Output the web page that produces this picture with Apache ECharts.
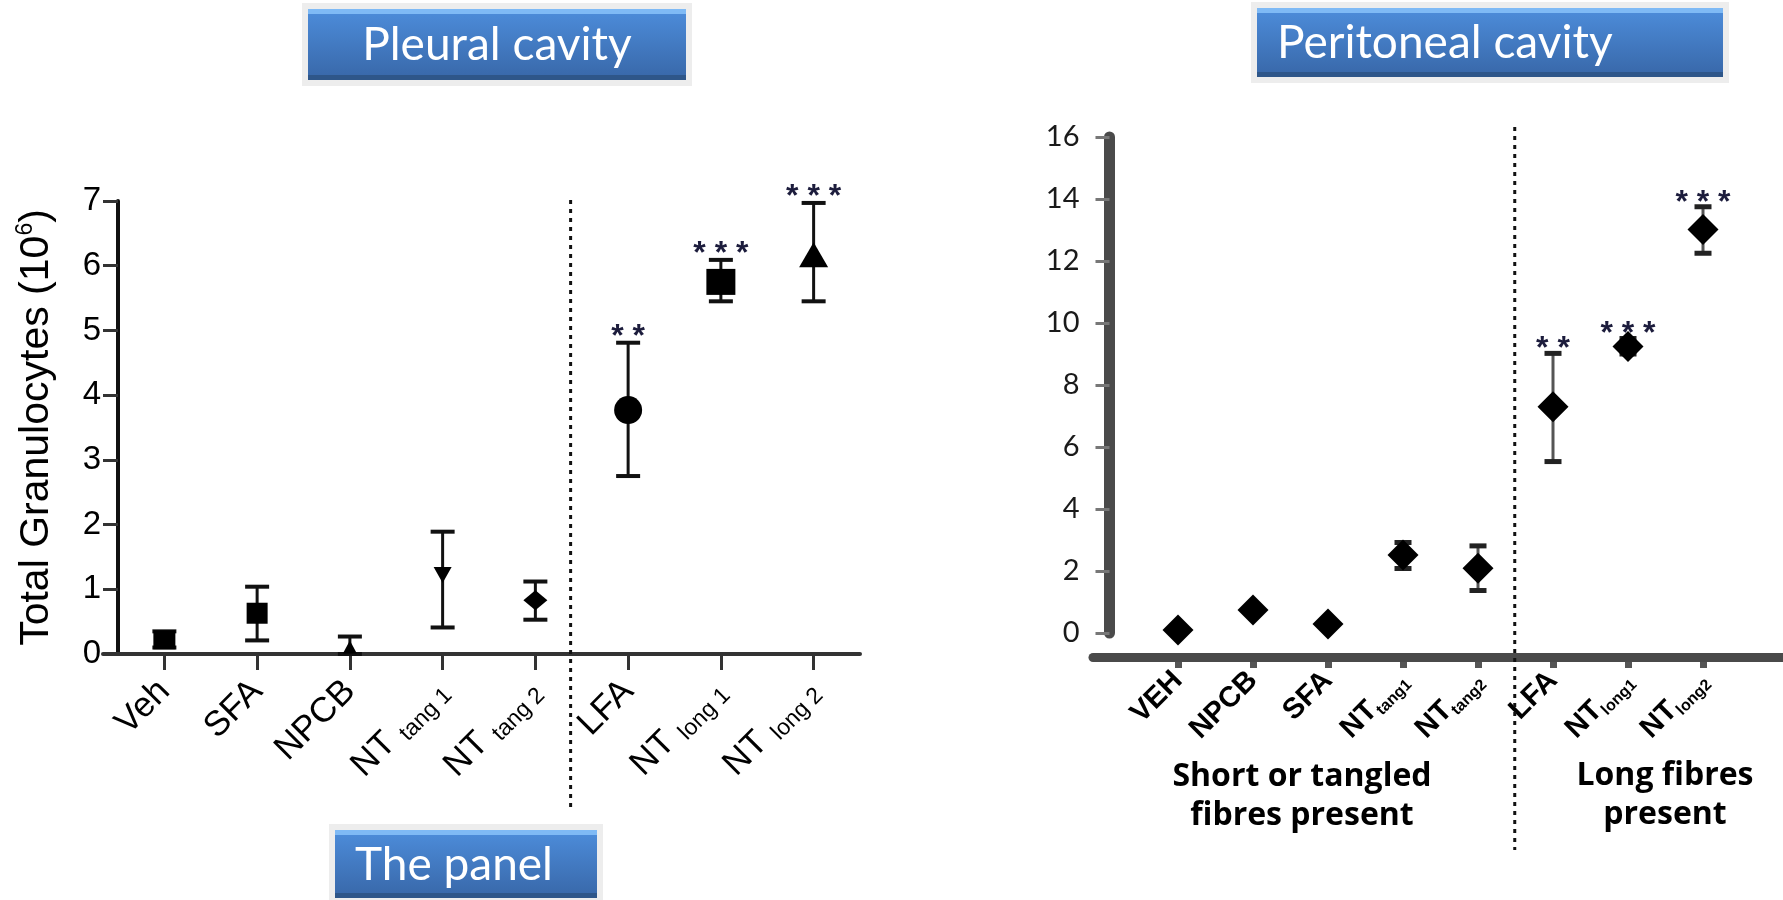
<!DOCTYPE html>
<html><head><meta charset="utf-8">
<script src="https://cdn.jsdelivr.net/npm/echarts@6/dist/echarts.min.js"></script>
<style>html,body{margin:0;padding:0;background:#fff}#c{width:1783px;height:900px}</style>
</head><body><div id="c"></div>
<script>
// ---- Pleural cavity (left panel) ----
const leftCategories = ['Veh','SFA','NPCB','NT tang 1','NT tang 2','LFA','NT long 1','NT long 2'];
const leftMean  = [0.22, 0.63, 0.11, 1.22, 0.83, 3.77, 5.75, 6.17];
const leftUpper = [0.35, 1.04, 0.27, 1.89, 1.12, 4.81, 6.09, 6.97];
const leftLower = [0.10, 0.21, 0.00, 0.41, 0.53, 2.75, 5.45, 5.45];
const leftStars = ['', '', '', '', '', '**', '***', '***'];
const leftYTicks = [0,1,2,3,4,5,6,7];

// ---- Peritoneal cavity (right panel) ----
const rightCategories = ['VEH','NPCB','SFA','NT tang1','NT tang2','LFA','NT long1','NT long2'];
const rightMean  = [0.10, 0.74, 0.29, 2.52, 2.09, 7.30, 9.24, 13.02];
const rightUpper = [0.20, 0.84, 0.39, 2.92, 2.81, 9.02, 9.50, 13.75];
const rightLower = [0.00, 0.64, 0.19, 2.08, 1.37, 5.53, 9.00, 12.25];
const rightStars = ['', '', '', '', '', '**', '***', '***'];
const rightYTicks = [0,2,4,6,8,10,12,14,16];

// ---- styles (not data) ----
const leftSymbols = ['rect','rect','triangle','path://M0,0 L10,0 L5,9 Z','diamond','circle','rect','triangle'];
const leftSizes = [[22,19],[21,21],[14,13],[18,16],[24,20],[28,28],[29,26],[29,25]];

function splitLabel(v){
  if (v.indexOf('NT ') === 0) return {main: 'NT', sub: v.slice(3)};
  return {main: v, sub: ''};
}

function errorBars(xi, yi, lower, upper, stars, o){
  return {
    type: 'custom', xAxisIndex: xi, yAxisIndex: yi, z: 3, clip: false,
    data: lower.map((l, i) => [i, l, upper[i]]),
    renderItem: function(params, api){
      const i = api.value(0);
      const lo = api.coord([i, api.value(1)]);
      const hi = api.coord([i, api.value(2)]);
      const x = lo[0], w = o.cap / 2;
      const ch = [
        {type:'line', shape:{x1:x, y1:lo[1], x2:x, y2:hi[1]}, style:{stroke:o.color, lineWidth:o.lw}},
        {type:'line', shape:{x1:x-w, y1:hi[1], x2:x+w, y2:hi[1]}, style:{stroke:o.capColor, lineWidth:o.capW}},
        {type:'line', shape:{x1:x-w, y1:lo[1], x2:x+w, y2:lo[1]}, style:{stroke:o.capColor, lineWidth:o.capW}}
      ];
      if (stars[i]) {
        ch.push({type:'text', style:{text: stars[i].split('').join(' '), x: x, y: hi[1] - o.starGap,
          align:'center', verticalAlign:'middle', font: o.starFont, fill: o.starColor}});
      }
      return {type:'group', children: ch};
    }
  };
}

const chart = echarts.init(document.getElementById('c'));

const hiddenValueAxis = (g) => ({type: 'value', gridIndex: g, min: 0, max: 1, show: false});

const option = {
  animation: false,
  backgroundColor: '#fff',
  grid: [
    {left: 118, top: 201, width: 742, height: 453},      // 0 left data
    {left: 1140.5, top: 137, width: 600, height: 496},   // 1 right data
    {left: 1093, top: 137, right: 0, height: 496},       // 2 right long axis line
    {left: 1140.5, top: 137, width: 600, height: 525},   // 3 right category ticks/labels
    {left: 103, top: 201, width: 757, height: 453}       // 4 left long axis line
  ],
  xAxis: [
    {
      type: 'category', gridIndex: 0, data: leftCategories, boundaryGap: true,
      axisLine: {show: false},
      axisTick: {show: true, alignWithLabel: true, length: 16, lineStyle: {color: '#333', width: 3}},
      axisLabel: {
        rotate: 45, margin: 32, interval: 0,
        formatter: function(v){ const s = splitLabel(v); return s.sub ? '{m|' + s.main + ' }{s|' + s.sub + '}' : '{m|' + s.main + '}'; },
        rich: {
          m: {fontSize: 35, fontFamily: 'Liberation Sans', color: '#000', lineHeight: 40},
          s: {fontSize: 23, fontFamily: 'Liberation Sans', color: '#000', lineHeight: 28, verticalAlign: 'bottom'}
        }
      },
      splitLine: {show: false}
    },
    {
      type: 'category', gridIndex: 1, data: rightCategories, boundaryGap: true, show: false
    },
    {
      type: 'value', gridIndex: 2, min: 0, max: 1, offset: 24.5,
      axisLine: {show: true, onZero: false, lineStyle: {color: '#4a4a4a', width: 9}},
      axisTick: {show: false}, axisLabel: {show: false}, splitLine: {show: false}
    },
    {
      type: 'category', gridIndex: 3, data: rightCategories, boundaryGap: true,
      axisLine: {show: false},
      axisTick: {show: true, alignWithLabel: true, length: 6, lineStyle: {color: '#555', width: 7}},
      axisLabel: {
        rotate: 45, margin: 14, interval: 0,
        formatter: function(v){ const s = splitLabel(v); return s.sub ? '{m|' + s.main + '}{s|' + s.sub + '}' : '{m|' + s.main + '}'; },
        rich: {
          m: {fontSize: 29, fontWeight: 'bold', fontFamily: 'Liberation Sans', color: '#000', lineHeight: 34},
          s: {fontSize: 16, fontWeight: 'bold', fontFamily: 'Liberation Sans', color: '#000', lineHeight: 19, verticalAlign: 'bottom'}
        }
      },
      splitLine: {show: false}
    },
    {
      type: 'value', gridIndex: 4, min: 0, max: 1,
      axisLine: {show: true, onZero: false, lineStyle: {color: '#333', width: 4}},
      axisTick: {show: false}, axisLabel: {show: false}, splitLine: {show: false}
    }
  ],
  yAxis: [
    {
      type: 'value', gridIndex: 0, min: 0, max: 7, interval: 1,
      name: '{t|Total Granulocytes (10}{s|6}{t|)}',
      nameLocation: 'middle', nameGap: 58, nameRotate: 90,
      nameTextStyle: {rich: {
        t: {fontSize: 41, fontFamily: 'Liberation Sans', color: '#000', lineHeight: 46},
        s: {fontSize: 23, fontFamily: 'Liberation Sans', color: '#000', lineHeight: 22, verticalAlign: 'top'}
      }},
      axisLine: {show: true, lineStyle: {color: '#111', width: 4}},
      axisTick: {show: true, length: 15, lineStyle: {color: '#333', width: 3}},
      axisLabel: {fontSize: 33, fontFamily: 'Liberation Sans', color: '#000', margin: 17,
        formatter: function(v){ return leftYTicks.indexOf(v) >= 0 ? String(v) : ''; }},
      splitLine: {show: false}
    },
    {
      type: 'value', gridIndex: 1, min: 0, max: 16, interval: 2, offset: 31,
      axisLine: {show: true, lineStyle: {color: '#4a4a4a', width: 11}},
      axisTick: {show: true, length: 14, lineStyle: {color: '#777', width: 3}},
      axisLabel: {fontSize: 29, fontFamily: 'Lato', color: '#1a1a1a', margin: 30,
        formatter: function(v){ return rightYTicks.indexOf(v) >= 0 ? String(v) : ''; }},
      splitLine: {show: false}
    },
    hiddenValueAxis(2),
    hiddenValueAxis(3),
    hiddenValueAxis(4)
  ],
  series: [
    errorBars(0, 0, leftLower, leftUpper, leftStars, {
      color: '#111', lw: 3, cap: 24, capColor: '#111', capW: 4,
      starGap: 6, starFont: 'bold 32px Liberation Sans', starColor: '#1c1c3c'
    }),
    {
      type: 'scatter', xAxisIndex: 0, yAxisIndex: 0, z: 4,
      data: leftMean.map((v, i) => ({value: [i, v], symbol: leftSymbols[i], symbolSize: leftSizes[i]})),
      itemStyle: {color: '#000', opacity: 1}
    },
    errorBars(1, 1, rightLower, rightUpper, rightStars, {
      color: '#555', lw: 3, cap: 17, capColor: '#222', capW: 5,
      starGap: 4, starFont: 'bold 32px Liberation Sans', starColor: '#1c1c3c'
    }),
    {
      type: 'scatter', xAxisIndex: 1, yAxisIndex: 1, z: 4,
      data: rightMean.map((v, i) => [i, v]),
      symbol: 'diamond', symbolSize: [31, 31],
      itemStyle: {color: '#000', opacity: 1}
    }
  ]
};
chart.setOption(option);

function titleBox(x, y, w, h, text, tx, align, fs){
  return {type: 'group', x: x, y: y, children: [
    {type: 'rect', shape: {x: -6, y: -6, width: w + 12, height: h + 12}, style: {fill: '#ededed'}},
    {type: 'rect', shape: {x: 0, y: 0, width: w, height: h}, style: {fill: {type: 'linear', x: 0, y: 0, x2: 0, y2: 1,
      colorStops: [{offset: 0, color: '#4d8ddb'}, {offset: 1, color: '#3867a8'}]}}},
    {type: 'rect', shape: {x: 0, y: 0, width: w, height: 5}, style: {fill: '#7fbaf5'}},
    {type: 'rect', shape: {x: 0, y: h - 5, width: w, height: 5}, style: {fill: '#2e5689'}},
    {type: 'text', style: {text: text, x: tx, y: h / 2 + 1, align: align, verticalAlign: 'middle',
      font: fs + 'px Lato', fill: '#ffffff'}}
  ]};
}

// divider lines located between categories using the axis scale
function between(axisIdx, cats, i, frac){
  const a = chart.convertToPixel({xAxisIndex: axisIdx}, cats[i]);
  const b = chart.convertToPixel({xAxisIndex: axisIdx}, cats[i + 1]);
  return a + (b - a) * frac;
}
const dl = between(0, leftCategories, 4, 0.38);
const dr = between(3, rightCategories, 4, 0.49);

chart.setOption({graphic: {elements: [
  {type: 'line', shape: {x1: dl, y1: 200, x2: dl, y2: 808}, style: {stroke: '#111', lineWidth: 3, lineDash: [4, 5]}, z: 10},
  {type: 'line', shape: {x1: dr, y1: 127, x2: dr, y2: 850}, style: {stroke: '#111', lineWidth: 3, lineDash: [4, 5]}, z: 10},
  titleBox(308, 9, 378, 71, 'Pleural cavity', 189, 'center', 46),
  titleBox(1257, 8, 466, 69, 'Peritoneal cavity', 20, 'left', 46),
  titleBox(335, 830, 262, 68, 'The panel', 20, 'left', 46),
  {type: 'text', style: {text: 'Short or tangled\nfibres present', x: 1302, y: 796, align: 'center', verticalAlign: 'middle',
    font: 'bold 32px "Open Sans"', fill: '#000', lineHeight: 39}},
  {type: 'text', style: {text: 'Long fibres\npresent', x: 1665, y: 795, align: 'center', verticalAlign: 'middle',
    font: 'bold 32px "Open Sans"', fill: '#000', lineHeight: 39}}
]}});
</script>
</body></html>
